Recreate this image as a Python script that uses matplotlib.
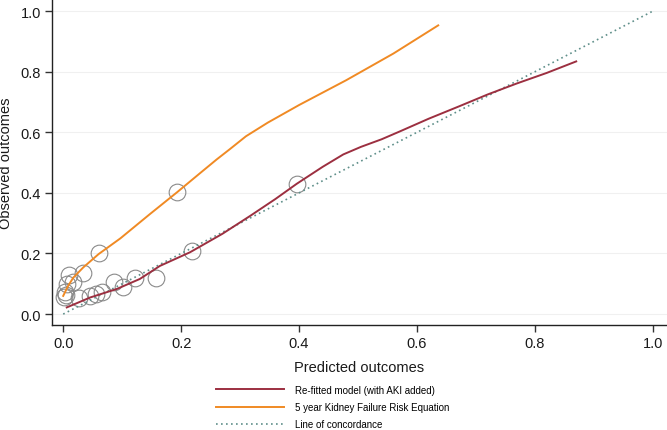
import matplotlib.pyplot as plt
import numpy as np

plt.rcParams['font.family'] = ['Liberation Sans', 'DejaVu Sans']

# smoothed calibration curves
refit_x = [0.006, 0.046, 0.091, 0.13, 0.164, 0.215, 0.27, 0.317, 0.36, 0.396, 0.44, 0.475,
           0.505, 0.54, 0.571, 0.62, 0.673, 0.72, 0.769, 0.82, 0.870]
refit_y = [0.022, 0.055, 0.083, 0.116, 0.159, 0.204, 0.265, 0.324, 0.38, 0.43, 0.486, 0.527,
           0.552, 0.577, 0.603, 0.645, 0.687, 0.725, 0.761, 0.796, 0.834]

kfre_x = [0.0, 0.008, 0.017, 0.034, 0.060, 0.097, 0.147, 0.193, 0.232, 0.26, 0.283, 0.31,
          0.347, 0.40, 0.48, 0.56, 0.636]
kfre_y = [0.060, 0.092, 0.12, 0.154, 0.198, 0.25, 0.330, 0.402, 0.465, 0.51, 0.545, 0.587,
          0.632, 0.69, 0.772, 0.86, 0.953]

# grouped observed vs predicted
refit_pts_x = [0.004, 0.026, 0.046, 0.056, 0.066, 0.086, 0.102, 0.122, 0.158, 0.219, 0.396]
refit_pts_y = [0.062, 0.052, 0.060, 0.066, 0.072, 0.105, 0.090, 0.118, 0.119, 0.207, 0.430]

kfre_pts_x = [0.002, 0.003, 0.006, 0.009, 0.017, 0.033, 0.060, 0.193]
kfre_pts_y = [0.057, 0.072, 0.099, 0.129, 0.105, 0.134, 0.201, 0.403]

concord = [0, 1]

fig = plt.figure(figsize=(6.67, 4.31), dpi=100)
ax = fig.add_axes([52/667, 1 - 326/431, 1 - 52/667, 326/431])

ax.plot(concord, concord, linestyle=(0, (1, 2)), color='#5f8f8a', lw=1.2,
        label='Line of concordance', zorder=2)
ax.plot(refit_pts_x, refit_pts_y, 'o', ms=12, mfc='none', mec='#8a8a8a', mew=0.8, zorder=1)
ax.plot(kfre_pts_x, kfre_pts_y, 'o', ms=12, mfc='none', mec='#8a8a8a', mew=0.8, zorder=1)
ax.plot(refit_x, refit_y, color='#9c2f40', lw=1.4, label='Re-fitted model (with AKI added)', zorder=3)
ax.plot(kfre_x, kfre_y, color='#f08a24', lw=1.4, label='5 year Kidney Failure Risk Equation', zorder=3)

ax.set_xlim(-0.019, 1.024)
ax.set_ylim(-0.036, 1.04)
ax.set_xticks(np.arange(0, 1.01, 0.2))
ax.set_yticks(np.arange(0, 1.01, 0.2))
ax.set_xticklabels(['0.0', '0.2', '0.4', '0.6', '0.8', '1.0'])
ax.set_yticklabels(['0.0', '0.2', '0.4', '0.6', '0.8', '1.0'])
ax.tick_params(direction='out', length=5, width=1, color='#333333', labelcolor='#1a1a1a',
               labelsize=10.5, pad=3)
ax.grid(axis='y', color='#f0f0f0', lw=0.8)
ax.set_axisbelow(True)
for s in ['top', 'right']:
    ax.spines[s].set_visible(False)
for s in ['left', 'bottom']:
    ax.spines[s].set_color('#222222')
    ax.spines[s].set_linewidth(1)

ax.set_xlabel('Predicted outcomes', fontsize=10.5, labelpad=7, color='#1a1a1a')
ax.set_ylabel('Observed outcomes', fontsize=10.5, labelpad=5, color='#1a1a1a')

handles, labels = ax.get_legend_handles_labels()
order = [1, 2, 0]
fig.legend([handles[i] for i in order], [labels[i] for i in order],
           loc='center left', bbox_to_anchor=(216/667, 1 - 408/431),
           frameon=False, fontsize=7, handlelength=7, handletextpad=1.1,
           labelspacing=0.75, borderpad=0, borderaxespad=0)

fig.savefig('out.png', dpi=100)
